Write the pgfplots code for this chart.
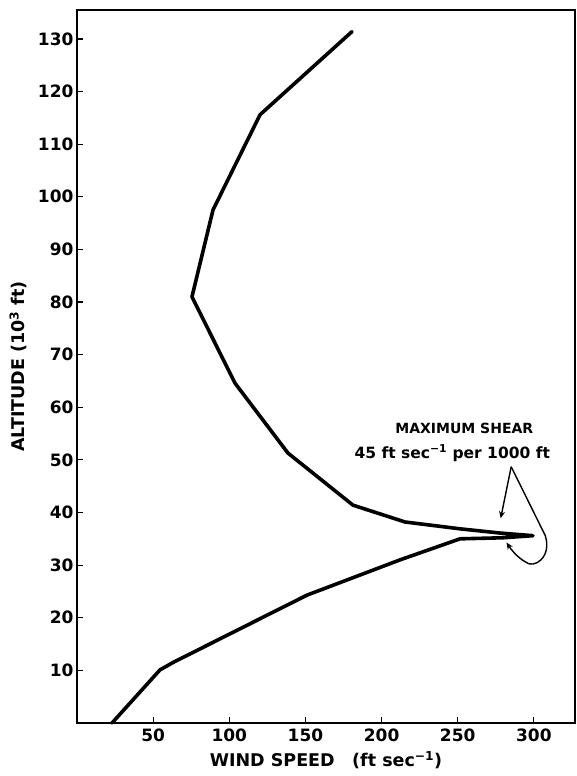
\documentclass[border=0pt]{standalone}
\usepackage{fontspec}
\setmainfont{DejaVu Sans}
\usepackage{pgfplots}
\pgfplotsset{compat=1.18}
\usetikzlibrary{arrows.meta}

\begin{document}
\begin{tikzpicture}
\begin{axis}[
  name=ax,
  scale only axis,
  width=498pt, height=713pt,
  xmin=0, xmax=327,
  ymin=0, ymax=135.5,
  axis line style={line width=1.6pt},
  tick pos=left,
  tick align=inside,
  major tick length=6pt,
  tick style={line width=1.2pt, black},
  xtick={50,100,150,200,250,300},
  ytick={10,20,30,40,50,60,70,80,90,100,110,120,130},
  /pgf/number format/assume math mode=true,
  ticklabel style={font=\bfseries\fontsize{17}{17}\selectfont},
  xticklabel style={yshift=-2pt},
  yticklabel style={xshift=0pt},
  xlabel={\bfseries WIND SPEED\quad (ft sec\textsuperscript{−1})},
  ylabel={\bfseries ALTITUDE (10\textsuperscript{3} ft)},
  label style={font=\fontsize{17.5}{18}\selectfont},
  xlabel style={yshift=-3pt},
  ylabel style={yshift=4pt},
  clip=false,
]
% wind-speed profile: ascending through the jet core and back out above it
\addplot[black, line width=3.6pt, line join=round, line cap=round] coordinates {
  (23.0,0) (54.5,10.1) (63.7,11.6) (151.0,24.3) (212.1,31.0)
  (251.5,35.0) (279.7,35.2) (299.4,35.6)
  (277.7,36.1) (251.5,36.9) (215.4,38.2) (181.2,41.4) (138.5,51.3)
  (103.7,64.6) (75.5,81.0) (89.3,97.5) (120.2,115.6) (180.6,131.4)
};

% shear annotation
\node[font=\bfseries\fontsize{14}{14}\selectfont, anchor=center]
  at (axis cs:254.3,55.9) {MAXIMUM SHEAR};
\node[font=\bfseries\fontsize{15.5}{16}\selectfont, anchor=center]
  at (axis cs:246.4,51.3) {45 ft sec\textsuperscript{−1} per 1000 ft};
\draw[line width=1.4pt, -{Stealth[length=7pt,width=6pt]}]
  (axis cs:285.1,48.7) -- (axis cs:278.2,38.9);
\draw[line width=1.4pt, -{Stealth[length=7pt,width=6pt]}]
  (axis cs:285.1,48.7) -- (axis cs:307.5,35.6)
  .. controls (axis cs:312,31.5) and (axis cs:300,29.2) .. (axis cs:294.5,30.6)
  .. controls (axis cs:289,31.5) and (axis cs:285,33) .. (axis cs:282.0,34.3);
\end{axis}
\pgfresetboundingbox
\path ([shift={(-77pt,-53pt)}]ax.south west) rectangle ([shift={(2pt,10pt)}]ax.north east);
\end{tikzpicture}
\end{document}
